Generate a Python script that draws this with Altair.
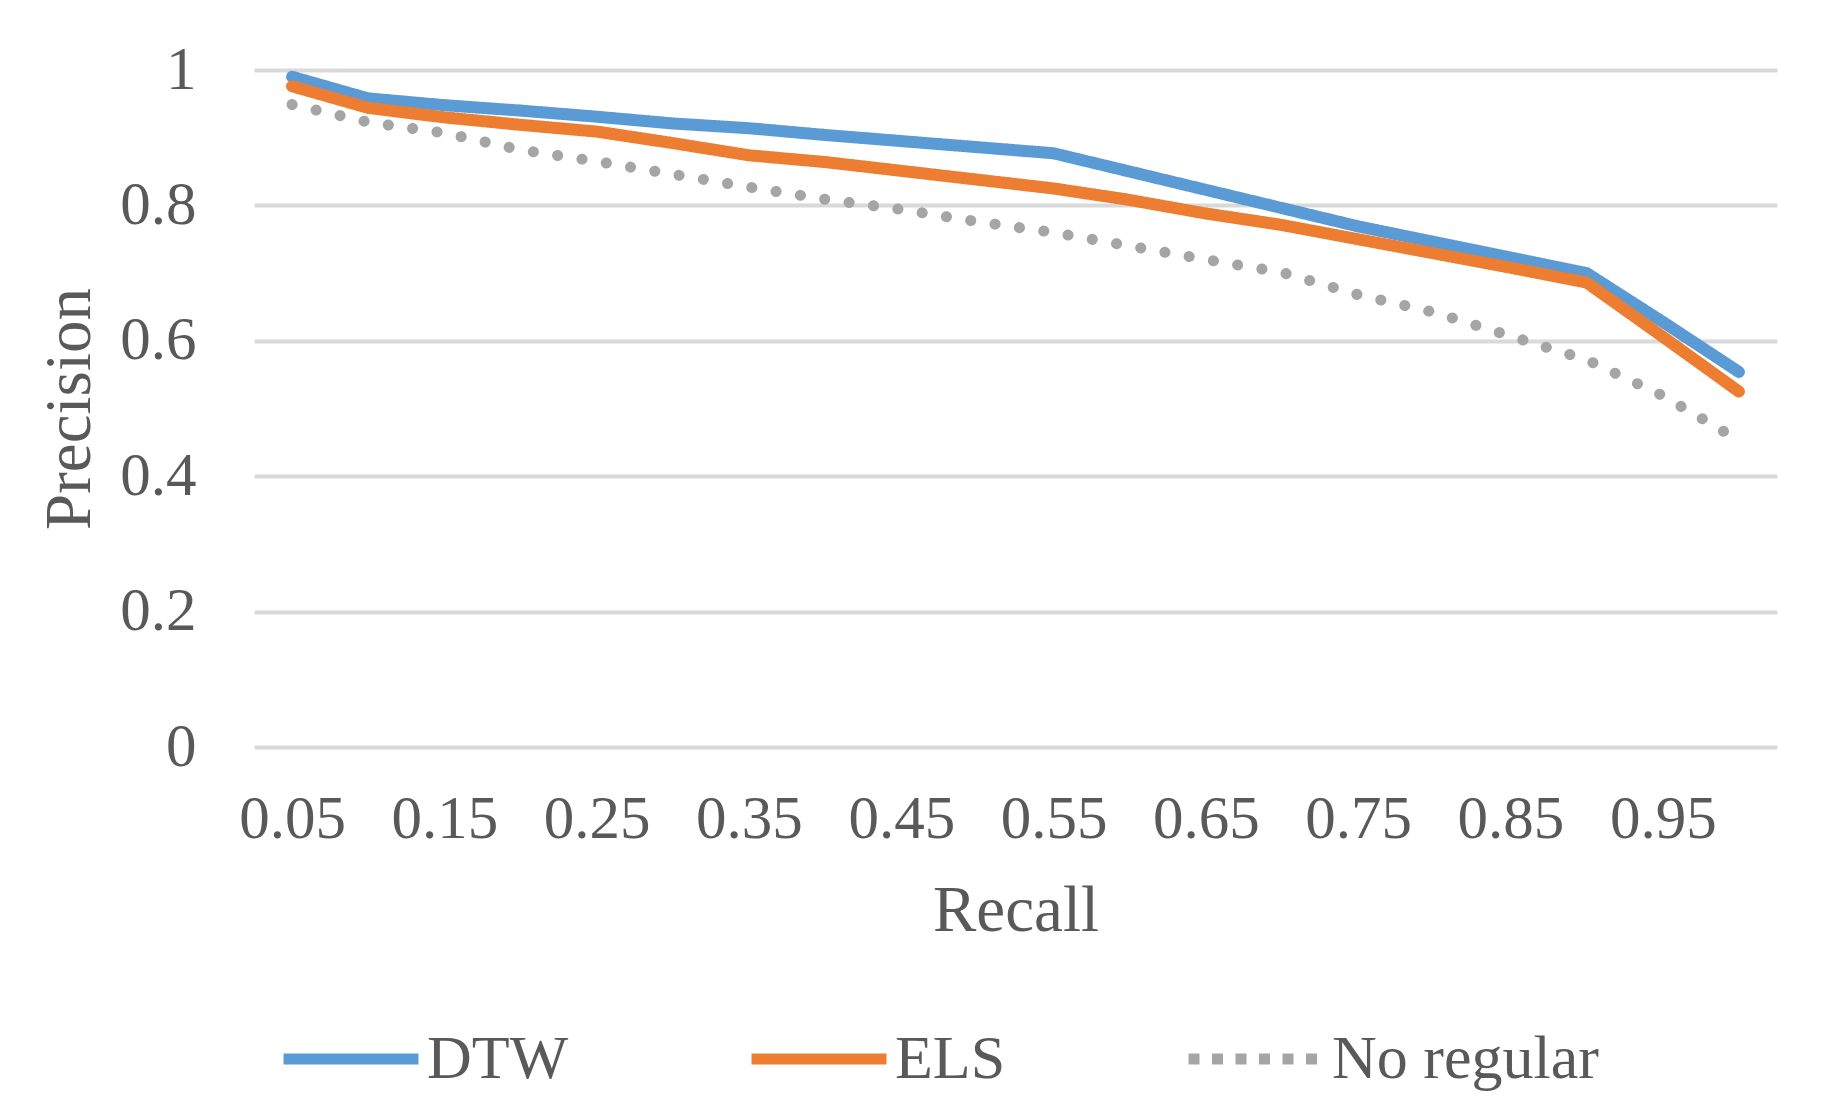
import altair as alt
import pandas as pd

# ---- data ----
recall = ["0.05", "0.1", "0.15", "0.2", "0.25", "0.3", "0.35", "0.4", "0.45", "0.5",
          "0.55", "0.6", "0.65", "0.7", "0.75", "0.8", "0.85", "0.9", "0.95", "1"]
dtw = [0.990, 0.958, 0.948, 0.940, 0.931, 0.921, 0.914, 0.904, 0.895, 0.886,
       0.877, 0.850, 0.823, 0.796, 0.769, 0.746, 0.723, 0.700, 0.628, 0.554]
els = [0.976, 0.944, 0.930, 0.919, 0.909, 0.892, 0.874, 0.864, 0.851, 0.838,
       0.825, 0.808, 0.788, 0.771, 0.750, 0.729, 0.708, 0.686, 0.606, 0.525]
no_regular = [0.949, 0.923, 0.907, 0.882, 0.865, 0.846, 0.827, 0.809, 0.794, 0.776,
              0.760, 0.740, 0.720, 0.701, 0.668, 0.642, 0.607, 0.572, 0.519, 0.453]
series_names = ["DTW", "ELS", "No regular"]
series_colors = ["#5B9BD5", "#ED7D31", "#A5A5A5"]
shown_x_labels = recall[0::2]
y_ticks = [0, 0.2, 0.4, 0.6, 0.8, 1]

rows = []
for name, vals in zip(series_names, [dtw, els, no_regular]):
    for r, v in zip(recall, vals):
        rows.append({"Recall": r, "Precision": v, "Series": name})
df = pd.DataFrame(rows)

FONT = "Liberation Serif"
TEXT = "#595959"

x = alt.X(
    "Recall:O",
    sort=recall,
    scale=alt.Scale(type="point", padding=0.5),
    axis=alt.Axis(
        values=shown_x_labels, title="Recall", labelAngle=0,
        domain=False, ticks=False, grid=False,
        labelPadding=42, labelFontSize=61, labelFont=FONT, labelColor=TEXT,
        titleFontSize=65, titleFont=FONT, titleColor=TEXT, titleFontWeight="normal",
        titleY=183, titleBaseline="alphabetic",
    ),
)
y = alt.Y(
    "Precision:Q",
    scale=alt.Scale(domain=[0, 1], nice=False, zero=True),
    axis=alt.Axis(
        values=y_ticks, format="~g", title="Precision",
        domain=False, ticks=False, grid=True, gridColor="#D9D9D9", gridWidth=4,
        labelPadding=58, labelFontSize=61, labelFont=FONT, labelColor=TEXT,
        titleFontSize=65, titleFont=FONT, titleColor=TEXT, titleFontWeight="normal",
        titleX=-165, titleY=338.5, titleAngle=270, titleAlign="center",
        titleBaseline="alphabetic",
    ),
)

legend = alt.Legend(
    title=None, orient="none", legendX=24, legendY=916, direction="horizontal",
    symbolType="stroke", symbolSize=18225, symbolStrokeWidth=11,
    labelFontSize=62, labelFont=FONT, labelColor=TEXT, labelLimit=0,
    labelOffset=3, columnPadding=160, padding=0,
)
color = alt.Color("Series:N", scale=alt.Scale(domain=series_names, range=series_colors),
                  legend=legend)
dash = alt.StrokeDash("Series:N",
                      scale=alt.Scale(domain=series_names, range=[[1, 0], [1, 0], [11, 12.5]]),
                      legend=legend)

base = alt.Chart(df)
solid = base.transform_filter(alt.datum.Series != "No regular").mark_line(
    strokeWidth=12, strokeCap="round", strokeJoin="round"
).encode(x=x, y=y, color=color, strokeDash=dash)
dotted = base.transform_filter(alt.datum.Series == "No regular").mark_line(
    strokeWidth=11, strokeCap="round", strokeJoin="round", strokeDash=[0.1, 24.5]
).encode(x=x, y=y, color=color)

chart = alt.layer(dotted, solid).properties(
    width=1523, height=677,
    autosize=alt.AutoSizeParams(type="none"),
    padding={"left": 246, "top": 62, "right": 42, "bottom": 360},
    background="white",
).configure_view(stroke=None)

chart.save("out.html", embed_options={"renderer": "svg", "actions": False})
